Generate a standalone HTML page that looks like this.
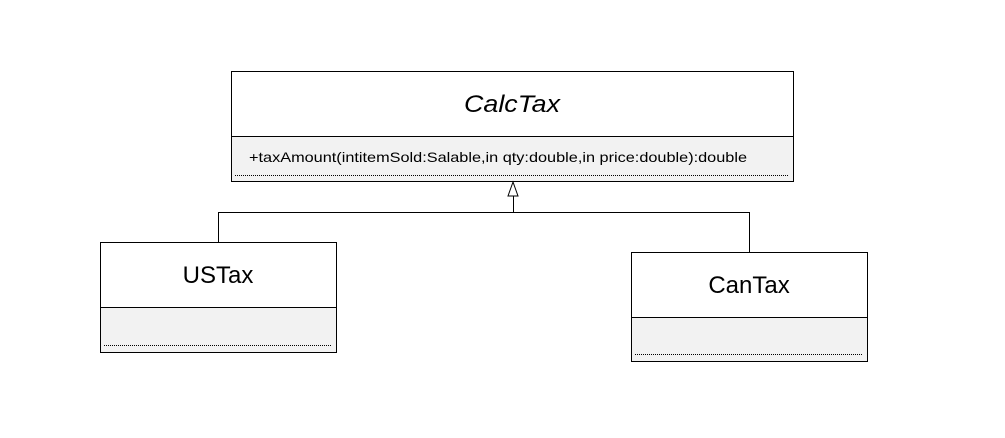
<!DOCTYPE html>
<html><head><style>body{margin:0;background:#fff}svg{display:block}</style></head>
<body>
<svg width="1005" height="438" xmlns="http://www.w3.org/2000/svg" font-family="Liberation Sans, sans-serif">
<rect x="0" y="0" width="1005" height="438" fill="#fff"/>
<rect x="231.5" y="71.5" width="562" height="110" fill="#fff" stroke="#000"/>
<rect x="232" y="136" width="561" height="45" fill="#f2f2f2"/>
<line x1="231" y1="136.5" x2="794" y2="136.5" stroke="#000"/>
<line x1="235" y1="175.5" x2="789" y2="175.5" stroke="#000" stroke-dasharray="1,1"/>
<text x="512" y="112" text-anchor="middle" font-size="24" font-style="italic" textLength="96" lengthAdjust="spacingAndGlyphs">CalcTax</text>
<text x="249" y="162" font-size="14" textLength="498" lengthAdjust="spacingAndGlyphs">+taxAmount(intitemSold:Salable,in qty:double,in price:double):double</text>
<polygon points="513,182 508,196 518,196" fill="#fff" stroke="#000"/>
<line x1="513.5" y1="196" x2="513.5" y2="212" stroke="#000"/>
<polyline points="218.5,242 218.5,212.5 749.5,212.5 749.5,252" fill="none" stroke="#000"/>
<rect x="100.5" y="242.5" width="236" height="110" fill="#fff" stroke="#000"/>
<rect x="101" y="307" width="235" height="45" fill="#f2f2f2"/>
<line x1="100" y1="307.5" x2="337" y2="307.5" stroke="#000"/>
<line x1="104" y1="345.5" x2="332" y2="345.5" stroke="#000" stroke-dasharray="1,1"/>
<text x="218" y="283" text-anchor="middle" font-size="24">USTax</text>
<rect x="631.5" y="252.5" width="236" height="109" fill="#fff" stroke="#000"/>
<rect x="632" y="317" width="235" height="44" fill="#f2f2f2"/>
<line x1="631" y1="317.5" x2="868" y2="317.5" stroke="#000"/>
<line x1="635" y1="354.5" x2="863" y2="354.5" stroke="#000" stroke-dasharray="1,1"/>
<text x="749" y="293" text-anchor="middle" font-size="24">CanTax</text>
</svg>
</body></html>
